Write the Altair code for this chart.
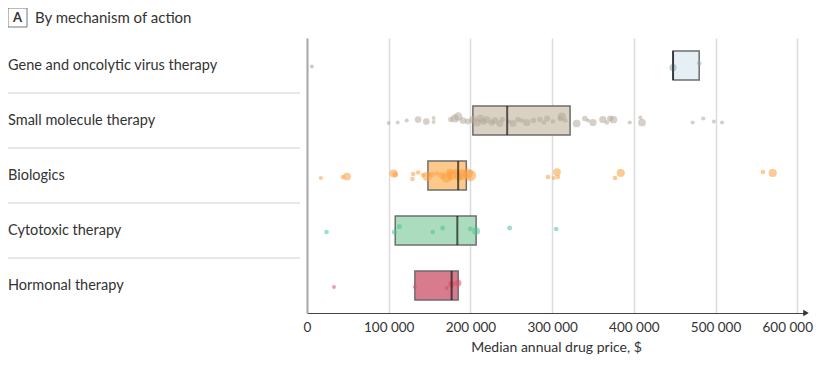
import altair as alt
import pandas as pd

FONT = "Lato"

categories = ["Gene and oncolytic virus therapy", "Small molecule therapy", "Biologics",
              "Cytotoxic therapy", "Hormonal therapy"]
q1 = [448000, 203000, 148000, 108000, 132000]
median = [448000, 245000, 185000, 184000, 177000]
q3 = [480000, 322000, 195000, 207000, 185000]
box_fill = ["#e6eff3", "#d9d1c1", "#fdc98b", "#acdcbe", "#d87b8c"]
point_color = ["#8aa6b6", "#b3aa9b", "#fb9f3c", "#4fc297", "#e04a5c"]

# (value, vertical jitter px, size)
gene_pts = [(6000, 1, 10), (448000, 2, 35), (480000, -2, 14)]
small_pts = [(100000, 2.5, 10), (111000, 2, 10), (122000, 0, 12), (136000, -1, 30), (146000, 1, 30),
             (155000, -2.5, 10), (155000, 1.5, 10), (176000, -1, 20), (181000, -2, 45), (185000, -4, 50),
             (191000, 0, 30), (197000, 1, 25), (203000, -1, 35), (208000, 2, 40), (212000, -2, 40),
             (216000, 1, 30), (220000, -1, 35), (226000, 2, 25), (230000, 0, 30), (236000, 3, 30),
             (239000, -1, 20), (247000, 1, 15), (252000, 3, 30), (258000, -1, 20), (263000, 0, 15),
             (269000, 2, 35), (277000, 0, 20), (285000, -1, 20), (290000, 2, 15), (294000, -2, 25),
             (301000, 1, 15), (310000, -2, 20), (312000, -4, 45), (316000, 0, 15), (330000, 3, 40),
             (340000, -2, 20), (344000, 0, 12), (350000, 2, 35), (362000, -1, 35), (367000, 2, 15),
             (371000, -2, 25), (375000, -1, 40), (395000, 2, 12), (408000, -3, 12), (410000, 2, 40),
             (472000, 2, 12), (485000, -2, 12), (498000, 1, 12), (508000, 2, 12)]
bio_pts = [(17000, 2.5, 12), (44000, 1.5, 14), (49000, 1, 40), (106000, -2, 45), (108000, -1, 20),
           (129000, 3.5, 14), (130000, -1.5, 14), (136000, -3, 14), (142000, -0.5, 14), (147000, 1, 60),
           (153000, -1, 20), (159000, -2, 14), (165000, 0, 30), (171000, 2, 70), (175000, -3, 40),
           (177000, 0, 60), (182000, -4, 20), (186000, 1, 50), (190000, -1, 80), (197000, -2, 70),
           (200000, 0, 90), (295000, 1.5, 14), (302000, 2.5, 12), (306000, -3.5, 40), (307000, 1.5, 14),
           (377000, 2.5, 14), (384000, -2.5, 45), (558000, -3.5, 14), (570000, -2.5, 45)]
cyto_pts = [(24000, 1.5, 14), (107000, 1.5, 18), (113000, -4, 18), (154000, 1.5, 14), (166000, -2.5, 16),
            (200000, -1.5, 16), (207000, 0.5, 40), (248000, -2.5, 16), (305000, -1.5, 14)]
horm_pts = [(33000, 1.5, 10), (132000, 1.5, 10), (171000, 2.5, 10), (177000, -1.5, 30), (185000, -2.5, 30)]

x_ticks = [0, 100000, 200000, 300000, 400000, 500000, 600000]

W, H = 498, 275
BAND = H / len(categories)

box_df = pd.DataFrame({"cat": categories, "q1": q1, "median": median, "q3": q3})
rows = []
for cat, pts in zip(categories, [gene_pts, small_pts, bio_pts, cyto_pts, horm_pts]):
    for v, dy, s in pts:
        rows.append({"cat": cat, "value": v, "dy": dy, "size": s})
pts_df = pd.DataFrame(rows)
lab_df = pd.DataFrame({"cat": categories})
sep_df = pd.DataFrame({"cat": categories[1:]})

xscale = alt.Scale(domain=[0, 609500], nice=False, zero=True)
yscale = alt.Scale(domain=categories, paddingInner=0, paddingOuter=0)
color_fill = alt.Scale(domain=categories, range=box_fill)
color_pt = alt.Scale(domain=categories, range=point_color)

xaxis = alt.Axis(values=x_ticks, grid=True, gridColor="#dcdcdc", gridWidth=1.5, ticks=False,
                 domainColor="#444", domainWidth=1, labelPadding=7, labelFontSize=13.5,
                 labelColor="#333", labelFont=FONT, title="Median annual drug price, $",
                 titleFont=FONT, titleFontSize=14, titleFontWeight="normal", titleColor="#333",
                 titlePadding=7, labelFlush=False,
                 labelOffset={"condition": {"test": "datum.value == 600000", "value": -10}, "value": 0},
                 labelExpr="datum.value == 0 ? '0' : floor(datum.value / 1000) + ' 000'")
yaxis = alt.Axis(labels=False, ticks=False, title=None, grid=False, domainColor="#aaaaaa", domainWidth=2)

base = alt.Chart(box_df)

boxes = base.mark_bar(size=29, stroke="#6e6e6e", strokeWidth=1.5).encode(
    x=alt.X("q1:Q", scale=xscale, axis=xaxis),
    x2="q3:Q",
    y=alt.Y("cat:N", scale=yscale, axis=yaxis, sort=categories),
    fill=alt.Fill("cat:N", scale=color_fill, legend=None),
)

points = alt.Chart(pts_df).transform_calculate(
    off=f"datum.dy + {BAND / 2}", sz="datum.size * 1.5"
).mark_circle(opacity=0.55).encode(
    x=alt.X("value:Q", scale=xscale),
    y=alt.Y("cat:N", scale=yscale, sort=categories),
    yOffset=alt.YOffset("off:Q", scale=None),
    size=alt.Size("sz:Q", scale=None, legend=None),
    color=alt.Color("cat:N", scale=color_pt, legend=None),
)

medians = base.mark_tick(size=29, thickness=2, color="#1a1a1a").encode(
    x=alt.X("median:Q", scale=xscale),
    y=alt.Y("cat:N", scale=yscale, sort=categories),
)

labels = alt.Chart(lab_df).mark_text(align="left", baseline="middle", fontSize=14.5, font=FONT,
                                     color="#333").encode(
    x=alt.value(-299),
    y=alt.Y("cat:N", scale=yscale, sort=categories),
    text="cat:N",
)

seps = alt.Chart(sep_df).mark_rule(color="#cfcfcf", strokeWidth=1).encode(
    x=alt.value(-299), x2=alt.value(-7),
    y=alt.Y("cat:N", scale=yscale, sort=categories, bandPosition=0),
)

arrow = alt.Chart(pd.DataFrame({"a": [0]})).mark_point(shape="triangle-right", filled=True,
                                                       color="#333", size=40, opacity=1).encode(
    x=alt.value(W + 1), y=alt.value(H),
)

title_df = pd.DataFrame({"t": ["By mechanism of action"], "a": ["A"]})
abox = alt.Chart(title_df).mark_rect(fill="white", stroke="#777", strokeWidth=1).encode(
    x=alt.value(-299), x2=alt.value(-280), y=alt.value(-30), y2=alt.value(-11))
atext = alt.Chart(title_df).mark_text(fontSize=13, fontWeight="bold", font=FONT, color="#333",
                                      baseline="middle", align="center").encode(
    x=alt.value(-289.5), y=alt.value(-20), text="a:N")
ttext = alt.Chart(title_df).mark_text(fontSize=15, font=FONT, color="#333", baseline="middle",
                                      align="left").encode(
    x=alt.value(-272), y=alt.value(-20), text="t:N")

chart = alt.layer(seps, labels, boxes, points, medians, arrow, abox, atext, ttext).properties(
    width=W, height=H,
    autosize=alt.AutoSizeParams(type="none"),
    padding={"left": 299, "top": 30, "right": 11, "bottom": 45},
).configure_view(stroke=None)

chart.save("out.html", embed_options={"renderer": "svg", "actions": False})
